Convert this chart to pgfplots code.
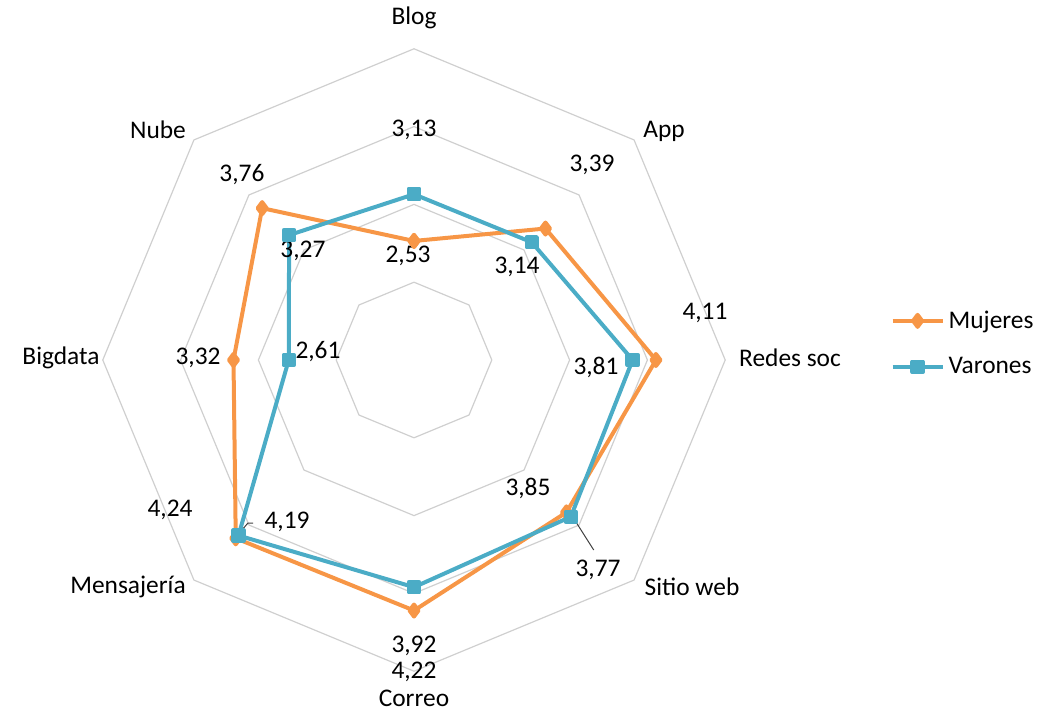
\documentclass[border=0pt]{standalone}
\usepackage{fontspec}
\setmainfont{Carlito}
\usepackage{pgfplots}
\usepackage{pgfplotstable}
\pgfplotsset{compat=1.18}
\definecolor{muj}{HTML}{F79646}
\definecolor{var}{HTML}{4BACC6}
\definecolor{gridc}{HTML}{CFCFCF}
\definecolor{txt}{HTML}{262626}

\pgfplotstableread{
a v
90 2.53
45 3.39
0 4.11
-45 3.77
-90 4.22
-135 4.24
180 3.32
135 3.76
90 2.53
}\mujtab

\pgfplotstableread{
a v
90 3.13
45 3.14
0 3.81
-45 3.85
-90 3.92
-135 4.19
180 2.61
135 3.27
90 3.13
}\vartab

\pgfplotstableread{
a r
90 1
45 1
0 1
-45 1
-90 1
-135 1
180 1
135 1
90 1
}\octtab

\begin{document}
\begin{tikzpicture}
\begin{axis}[
  scale only axis,
  x=38.9pt, y=38.9pt,
  xmin=-5.321, xmax=8.123, ymin=-4.499, ymax=4.627,
  hide axis, clip=false,
  font=\fontsize{12.7}{15}\selectfont,
  every node/.append style={text=txt},
  legend style={draw=none, fill=none, at={(axis cs:6.12,0.212)}, anchor=west,
    font=\fontsize{12.7}{15}\selectfont, row sep=9pt, inner sep=0pt},
  legend cell align=left,
  legend image post style={line width=2pt},
  /pgfplots/legend image code/.code={
    \draw[mark repeat=2,mark phase=2] plot coordinates {(0cm,0cm) (0.44cm,0cm) (0.88cm,0cm)};},
]
\path (axis cs:-5.321,-4.499) rectangle (axis cs:8.123,4.627);
\pgfplotsinvokeforeach{1,2,3,4}{
  \addplot[gridc, line width=0.6pt, no markers, forget plot]
    table[x expr={#1*\thisrow{r}*cos(\thisrow{a})}, y expr={#1*\thisrow{r}*sin(\thisrow{a})}] {\octtab};
}
\addplot[muj, line width=2pt, mark=diamond*, mark size=3pt, line join=round]
  table[x expr={(\thisrow{v}-1)*cos(\thisrow{a})}, y expr={(\thisrow{v}-1)*sin(\thisrow{a})}] {\mujtab};
\addlegendentry{Mujeres}
\addplot[var, line width=2pt, mark=square*, mark size=2.6pt, line join=round]
  table[x expr={(\thisrow{v}-1)*cos(\thisrow{a})}, y expr={(\thisrow{v}-1)*sin(\thisrow{a})}] {\vartab};
\addlegendentry{Varones}

% category labels
\node at (axis cs:0,4.396) {Blog};
\node at (axis cs:3.213,2.943) {App};
\node at (axis cs:4.833,0.026) {Redes soc};
\node at (axis cs:3.573,-2.918) {Sitio web};
\node at (axis cs:0,-4.35) {Correo};
\node at (axis cs:-3.676,-2.918) {Mensajería};
\node at (axis cs:-4.537,0.026) {Bigdata};
\node at (axis cs:-3.290,2.956) {Nube};

% Mujeres labels
\node at (axis cs:-0.077,1.337) {2,53};
\node at (axis cs:2.288,2.506) {3,39};
\node at (axis cs:3.740,0.604) {4,11};
\node at (axis cs:2.365,-2.699) {3,77};
\node[inner sep=0.5pt] at (axis cs:0,-4.01) {4,22};
\node at (axis cs:-3.136,-1.928) {4,24};
\node at (axis cs:-2.776,0.026) {3,32};
\node at (axis cs:-2.211,2.378) {3,76};
% Varones labels
\node at (axis cs:0,2.956) {3,13};
\node at (axis cs:1.324,1.195) {3,14};
\node at (axis cs:2.339,-0.090) {3,81};
\node at (axis cs:1.465,-1.645) {3,85};
\node[inner sep=0.5pt] at (axis cs:0,-3.68) {3,92};
\node at (axis cs:-1.632,-2.082) {4,19};
\node at (axis cs:-1.234,0.103) {2,61};
\node at (axis cs:-1.427,1.401) {3,27};

% leader lines
\draw[black!75, line width=0.5pt] (axis cs:2.31,-2.442) -- (axis cs:1.967,-1.902);
\draw[black!75, line width=0.5pt] (axis cs:-2.211,-2.185) -- (axis cs:-2.134,-2.095) -- (axis cs:-2.069,-2.095);
\end{axis}
\end{tikzpicture}
\end{document}
